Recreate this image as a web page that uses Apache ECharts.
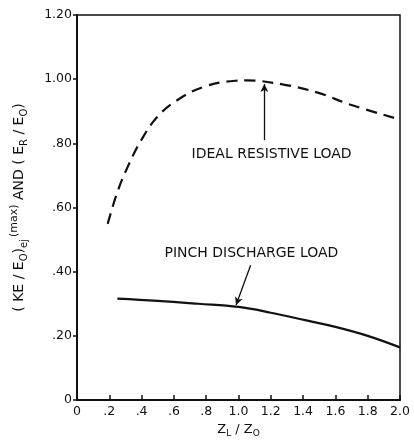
<!DOCTYPE html>
<html>
<head>
<meta charset="utf-8">
<script src="https://cdn.jsdelivr.net/npm/echarts@6/dist/echarts.min.js"></script>
<style>
html,body{margin:0;padding:0;background:#fff;}
#c{width:414px;height:443px;}
</style>
</head>
<body>
<div id="c"></div>
<script>
// Data
const xTicks = [0, 0.2, 0.4, 0.6, 0.8, 1.0, 1.2, 1.4, 1.6, 1.8, 2.0];
const yTicks = [0, 0.2, 0.4, 0.6, 0.8, 1.0, 1.2];
const idealX = [0.19, 0.25, 0.316, 0.40, 0.50, 0.625, 0.79, 0.98, 1.05, 1.28, 1.49, 1.69, 2.0];
const idealY = [0.549, 0.648, 0.729, 0.812, 0.884, 0.936, 0.977, 0.995, 0.996, 0.983, 0.958, 0.921, 0.874];
const pinchX = [0.25, 0.5, 0.75, 1.0, 1.2, 1.42, 1.6, 1.8, 2.0];
const pinchY = [0.316, 0.309, 0.300, 0.290, 0.272, 0.248, 0.228, 0.200, 0.164];
const labelIdeal = "IDEAL RESISTIVE LOAD";
const labelPinch = "PINCH DISCHARGE LOAD";

const ink = '#111';
const font = 'DejaVu Sans';
const zip = (a, b) => a.map((v, i) => [v, b[i]]);

const chart = echarts.init(document.getElementById('c'), null, {renderer: 'canvas'});
chart.setOption({
  backgroundColor: '#fff',
  animation: false,
  grid: {left: 77, right: 14, top: 15, bottom: 41, show: true, borderColor: ink, borderWidth: 1.5, backgroundColor: 'transparent'},
  xAxis: {
    type: 'value', min: 0, max: 2, interval: 0.2,
    axisLine: {lineStyle: {color: ink, width: 2}},
    axisTick: {inside: true, length: 5, lineStyle: {color: ink, width: 1.5}},
    splitLine: {show: false},
    axisLabel: {
      color: ink, fontFamily: font, fontSize: 12.5, margin: 5,
      formatter: v => v === 0 ? '0' : (v < 0.999 ? '.' + Math.round(v * 10) : v.toFixed(1))
    },
    name: '{n|Z}{s|L}{n| / Z}{s|O}',
    nameLocation: 'middle', nameGap: 22,
    nameTextStyle: {
      color: ink, fontFamily: font,
      rich: {
        n: {fontSize: 13, fontFamily: font, color: ink, lineHeight: 16, verticalAlign: 'middle'},
        s: {fontSize: 9, fontFamily: font, color: ink, lineHeight: 8, verticalAlign: 'bottom'}
      }
    }
  },
  yAxis: {
    type: 'value', min: 0, max: 1.2, interval: 0.2,
    axisLine: {show: true, lineStyle: {color: ink, width: 2}},
    axisTick: {show: true, inside: false, length: 4, lineStyle: {color: ink, width: 1.5}},
    splitLine: {show: false},
    axisLabel: {
      color: ink, fontFamily: font, fontSize: 12.5, margin: 5,
      formatter: v => v === 0 ? '0' : (v < 0.999 ? '.' + Math.round(v * 100) : v.toFixed(2))
    },
    name: '{n|( KE / E}{s|O}{n|)}{s|ej}{u|(max)}{n| AND ( E}{s|R}{n| / E}{s|O}{n|)}',
    nameLocation: 'middle', nameGap: 48, nameRotate: 90,
    nameTextStyle: {
      color: ink, fontFamily: font,
      rich: {
        n: {fontSize: 14, fontFamily: font, color: ink, lineHeight: 20, verticalAlign: 'middle'},
        s: {fontSize: 10, fontFamily: font, color: ink, lineHeight: 9, verticalAlign: 'bottom'},
        u: {fontSize: 11, fontFamily: font, color: ink, lineHeight: 11, verticalAlign: 'top', padding: [0, 0, 0, 2]}
      }
    }
  },
  series: [
    {
      type: 'line', data: zip(idealX, idealY), smooth: 0.4, showSymbol: false,
      lineStyle: {color: ink, width: 2.2, type: [11, 7]},
      markLine: {
        silent: true, symbol: ['none', 'arrow'], symbolSize: [6, 8],
        lineStyle: {color: ink, width: 1.3, type: 'solid'}, label: {show: false},
        data: [[{coord: [1.16, 0.81]}, {coord: [1.16, 0.985]}]]
      },
      markPoint: {
        symbol: 'circle', symbolSize: 0, silent: true,
        label: {show: true, color: ink, fontFamily: font, fontSize: 14, formatter: labelIdeal, position: 'inside'},
        data: [{coord: [1.205, 0.766]}]
      }
    },
    {
      type: 'line', data: zip(pinchX, pinchY), smooth: 0.4, showSymbol: false,
      lineStyle: {color: ink, width: 2.2, type: 'solid'},
      markLine: {
        silent: true, symbol: ['none', 'arrow'], symbolSize: [6, 8],
        lineStyle: {color: ink, width: 1.3, type: 'solid'}, label: {show: false},
        data: [[{coord: [1.075, 0.42]}, {coord: [0.985, 0.296]}]]
      },
      markPoint: {
        symbol: 'circle', symbolSize: 0, silent: true,
        label: {show: true, color: ink, fontFamily: font, fontSize: 14, formatter: labelPinch, position: 'inside'},
        data: [{coord: [1.08, 0.456]}]
      }
    }
  ]
});
</script>
</body>
</html>
